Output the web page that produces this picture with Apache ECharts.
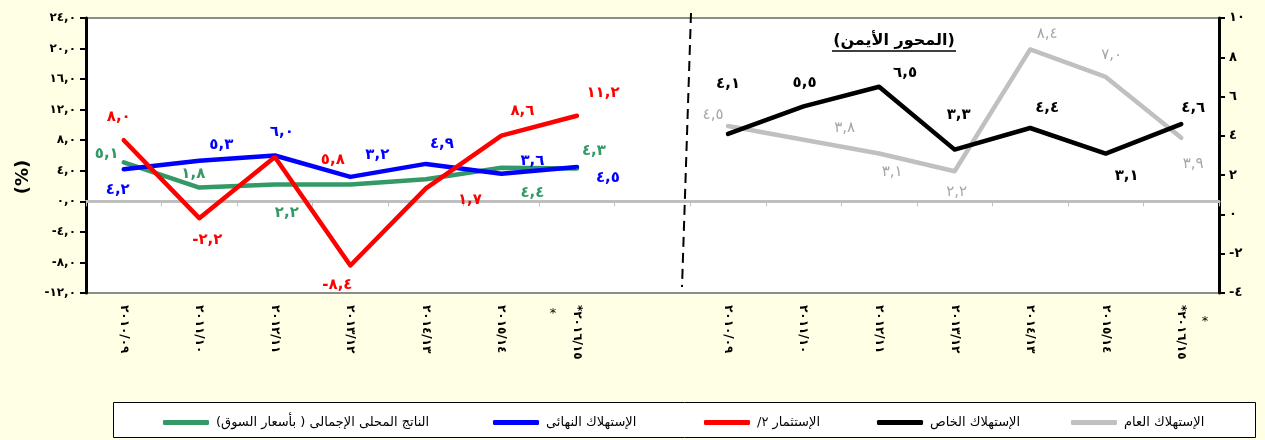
<!DOCTYPE html>
<html lang="ar">
<head>
<meta charset="UTF-8" />
<title>معدلات النمو</title>
<script src="https://cdn.jsdelivr.net/npm/echarts@6/dist/echarts.min.js"></script>
<style>
  html, body { margin: 0; padding: 0; background: #ffffe5; }
</style>
</head>
<body>
<div id="main" style="width: 1265px; height: 440px"></div>
<script type="text/javascript">
  // fiscal years (written as they appear, read top to bottom)
  const years = ["٢٠١٠/٠٩", "٢٠١١/١٠", "٢٠١٢/١١", "٢٠١٣/١٢", "٢٠١٤/١٣", "٢٠١٥/١٤", "*٢٠١٦/١٥"];

  // left panel, left axis (%)
  const gdp = [5.1, 1.8, 2.2, 2.2, 2.9, 4.4, 4.3];
  const finalConsumption = [4.2, 5.3, 6.0, 3.2, 4.9, 3.6, 4.5];
  const investment = [8.0, -2.2, 5.8, -8.4, 1.7, 8.6, 11.2];

  // right panel, right axis
  const privateConsumption = [4.1, 5.5, 6.5, 3.3, 4.4, 3.1, 4.6];
  const publicConsumption = [4.5, 3.8, 3.1, 2.2, 8.4, 7.0, 3.9];

  const leftTicks = [-12, -8, -4, 0, 4, 8, 12, 16, 20, 24];
  const rightTicks = [-4, -2, 0, 2, 4, 6, 8, 10];

  const names = {
    gdp: "الناتج المحلى الإجمالى ( بأسعار السوق)",
    finalC: "الإستهلاك النهائى",
    inv: "الإستثمار ٢/",
    privC: "الإستهلاك الخاص",
    pubC: "الإستهلاك العام"
  };

  // where each value label sits, relative to its point (px)
  const gdpLabelPos = [[-17, -8], [-6, -13], [12, 29], null, null, [31, 25], [17, -17]];
  const finalLabelPos = [[-6, 21], [22, -16], [7, -23], [27, -22], [16, -20], [31, -13], [31, 11]];
  const invLabelPos = [[-5, -23], [8, 22], [58, 3], [-13, 20], [44, 12], [21, -25], [26, -23]];
  const privLabelPos = [[0, -50], [1, -23], [26, -14], [4, -34], [17, -20], [21, 23], [12, -16]];
  const pubLabelPos = [[-15, -11], [41, -12], [13, 19], [2, 21], [17, -15], [6, -22], [12, 26]];

  const categories = years.concat([""], years);
  const gap = years.length + 1;

  const AR = "٠١٢٣٤٥٦٧٨٩";
  function ar(v, dec) {
    let s = Math.abs(v).toFixed(dec).replace(".", ",");
    s = s.replace(/[0-9]/g, d => AR[+d]);
    return (v < 0 ? "-" : "") + s;
  }
  const rtl = s => "\u200F" + s + "\u200F";

  function build(values, pos, right) {
    const items = values.map((v, i) => ({
      value: v,
      label: pos[i] ? { show: true, offset: pos[i] } : { show: false }
    }));
    const pad = new Array(gap).fill(null);
    return right ? pad.concat(items) : items.concat(pad);
  }

  function line(name, color, values, pos, right, labelColor, weight) {
    return {
      name: name,
      type: "line",
      yAxisIndex: right ? 1 : 0,
      data: build(values, pos, right),
      symbol: "circle",
      symbolSize: 1,
      itemStyle: { color: color },
      lineStyle: { color: color, width: 4.5, cap: "round", join: "round" },
      label: {
        show: true,
        position: "inside",
        color: labelColor,
        fontFamily: "DejaVu Sans",
        fontWeight: weight,
        fontSize: 15,
        formatter: p => ar(p.value, 1)
      },
      emphasis: { disabled: true },
      animation: false
    };
  }

  let myChart = echarts.init(document.getElementById("main"));

  const legendItem = (name, left) => ({
    data: [name],
    left: left,
    top: 411,
    itemWidth: 46,
    itemHeight: 5,
    itemGap: 0,
    icon: "roundRect",
    selectedMode: false,
    formatter: n => rtl(n),
    textStyle: { fontFamily: "DejaVu Sans", fontSize: 13, color: "#000", padding: [0, 0, 0, 2] }
  });

  let options = {
    backgroundColor: "#ffffe5",
    textStyle: { fontFamily: "DejaVu Sans" },
    grid: {
      left: 86, right: 46, top: 18, bottom: 147,
      show: true, backgroundColor: "#ffffff",
      borderColor: "#8c8c8c", borderWidth: 2
    },
    legend: [
      legendItem(names.gdp, 158),
      legendItem(names.finalC, 488),
      legendItem(names.inv, 699),
      legendItem(names.privC, 872),
      legendItem(names.pubC, 1066)
    ],
    xAxis: [
      {
        type: "category",
        data: categories,
        axisLine: { onZero: true, lineStyle: { color: "#bfbfbf", width: 3 } },
        axisTick: { show: true, interval: 0, length: 5, lineStyle: { color: "#bfbfbf", width: 1 } },
        axisLabel: { show: false },
        splitLine: { show: false }
      },
      {
        type: "category",
        data: categories,
        position: "bottom",
        axisLine: { show: false, onZero: false },
        axisTick: { show: false },
        axisLabel: {
          interval: 0, rotate: -90, margin: 12,
          color: "#000", fontSize: 12, fontWeight: "bold", fontFamily: "DejaVu Sans"
        },
        splitLine: { show: false }
      }
    ],
    yAxis: [
      {
        type: "value",
        position: "left",
        min: leftTicks[0],
        max: leftTicks[leftTicks.length - 1],
        interval: leftTicks[1] - leftTicks[0],
        axisLine: { show: true, onZero: false, lineStyle: { color: "#000", width: 3 } },
        axisTick: { show: true, length: 6, lineStyle: { color: "#000", width: 2 } },
        axisLabel: {
          margin: 10, color: "#000", fontSize: 12, fontWeight: "bold",
          formatter: v => ar(v, 1)
        },
        splitLine: { show: false }
      },
      {
        type: "value",
        position: "right",
        min: rightTicks[0],
        max: rightTicks[rightTicks.length - 1],
        interval: rightTicks[1] - rightTicks[0],
        axisLine: { show: true, onZero: false, lineStyle: { color: "#000", width: 3 } },
        axisTick: { show: true, length: 6, lineStyle: { color: "#000", width: 2 } },
        axisLabel: {
          margin: 10, color: "#000", fontSize: 13, fontWeight: "bold",
          formatter: v => ar(v, 0)
        },
        splitLine: { show: false }
      }
    ],
    series: [
      line(names.gdp, "#339966", gdp, gdpLabelPos, false, "#339966", "bold"),
      line(names.finalC, "#0000ff", finalConsumption, finalLabelPos, false, "#0000ff", "bold"),
      line(names.inv, "#ff0000", investment, invLabelPos, false, "#ff0000", "bold"),
      line(names.pubC, "#c0c0c0", publicConsumption, pubLabelPos, true, "#a6a6a6", "normal"),
      line(names.privC, "#000000", privateConsumption, privLabelPos, true, "#000000", "bold")
    ],
    graphic: [
      // legend frame
      { type: "rect", left: 113, top: 402, z: -1,
        shape: { width: 1142, height: 35 },
        style: { fill: "#ffffff", stroke: "#000", lineWidth: 1 } },
      // panel separator
      { type: "line", z: 10,
        shape: { x1: 691, y1: 13, x2: 682, y2: 287 },
        style: { stroke: "#000", lineWidth: 2, lineDash: [10, 6] } },
      // axis caption
      { type: "text", x: 23, y: 177, rotation: Math.PI / 2,
        style: { text: "(%)", font: "bold 18px DejaVu Sans", fill: "#000",
                 align: "center", verticalAlign: "middle" } },
      // right-axis caption
      { type: "text", x: 894, y: 41,
        style: { text: rtl("(المحور الأيمن)"), font: "bold 16px DejaVu Sans", fill: "#000",
                 align: "center", verticalAlign: "middle" } },
      { type: "line", shape: { x1: 832, y1: 51, x2: 956, y2: 51 },
        style: { stroke: "#000", lineWidth: 1.5 } },
      // footnote stars
      { type: "text", x: 553, y: 314,
        style: { text: "*", font: "13px DejaVu Sans", fill: "#000", align: "center", verticalAlign: "middle" } },
      { type: "text", x: 1205, y: 322,
        style: { text: "*", font: "13px DejaVu Sans", fill: "#000", align: "center", verticalAlign: "middle" } }
    ]
  };

  myChart.setOption(options);
</script>
</body>
</html>
